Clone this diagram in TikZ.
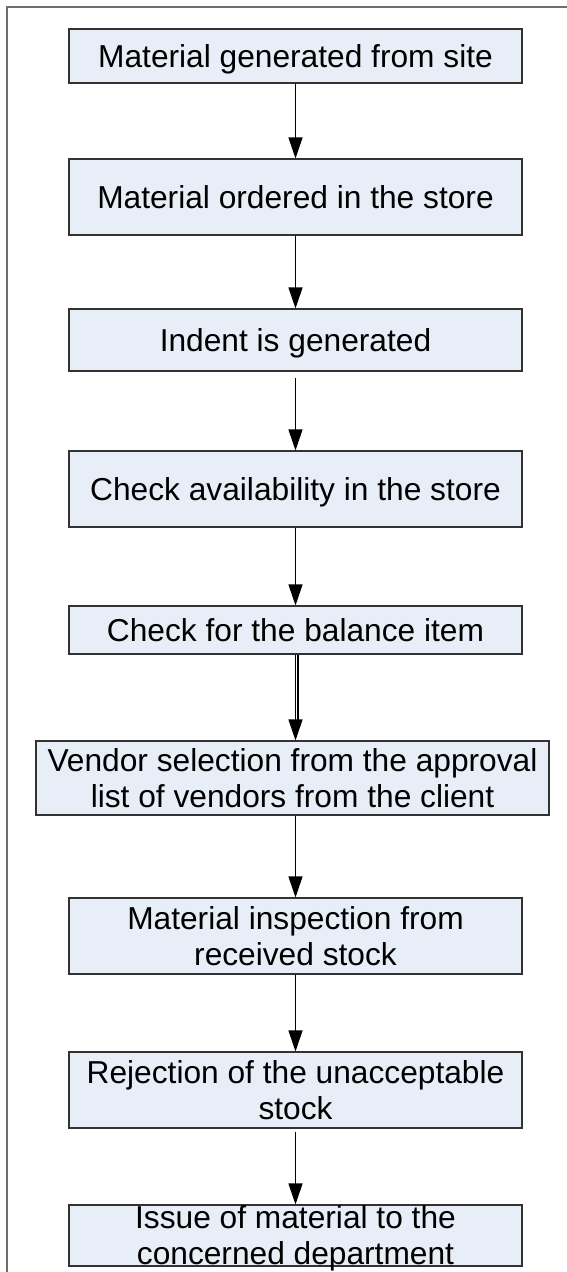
\documentclass[tikz,border=0pt]{standalone}
\usepackage{fontspec}
\setmainfont{Liberation Sans}
\usetikzlibrary{arrows.meta}
\definecolor{boxfill}{RGB}{232,238,248}
\definecolor{boxline}{RGB}{50,50,50}
\definecolor{framecol}{RGB}{110,110,110}
\tikzset{
  stepbox/.style={draw=boxline, line width=1.1pt, fill=boxfill, rectangle,
    minimum width=453pt, inner sep=2pt, align=center,
    font=\fontsize{31.7}{36}\selectfont, text height=22.7pt, text depth=0pt},
  twoline/.style={text height=58.7pt, text depth=0pt},
  arr/.style={draw=black, line width=1.1pt, -{Triangle[length=21pt,width=14pt]}},
  framel/.style={draw=framecol, line width=1.3pt}
}
\begin{document}
\begin{tikzpicture}[x=1pt,y=-1pt]
\useasboundingbox (0,0) rectangle (567,1272);
\draw[framel] (7,1272) -- (7,7) -- (567,7);
\node[stepbox, minimum height=54pt] (b1) at (295.5,56) {Material generated from site};
\node[stepbox, minimum height=76pt] (b2) at (295.5,197) {Material ordered in the store};
\node[stepbox, minimum height=62pt] (b3) at (295.5,340) {Indent is generated};
\node[stepbox, minimum height=76pt] (b4) at (295.5,489) {Check availability in the store};
\node[stepbox, minimum height=48pt] (b5) at (295.5,630) {Check for the balance item};
\node[stepbox, twoline, minimum height=74pt, minimum width=513pt] (b6) at (292.5,778) {Vendor selection from the approval\\list of vendors from the client};
\node[stepbox, twoline, minimum height=76pt] (b7) at (295.5,936) {Material inspection from\\received stock};
\node[stepbox, twoline, minimum height=76pt] (b8) at (295.5,1090) {Rejection of the unacceptable\\stock};
\node[stepbox, minimum height=61pt,
  label={[align=center, font=\fontsize{31.7}{36}\selectfont, text height=58.7pt, text depth=0pt]center:Issue of material to the\\concerned department}] (b9) at (295.5,1235.5) {};
\draw[arr] (b1.south) -- (b2.north);
\draw[arr] (b2.south) -- (b3.north);
\draw[arr, shorten <=6pt] (b3.south) -- (b4.north);
\draw[arr] (b4.south) -- (b5.north);
\draw[arr] (b5.south) -- (b5.south |- b6.north);
\draw[draw=black, line width=1.1pt, shorten >=18pt] ([xshift=2.5pt]b5.south) -- ([xshift=2.5pt]b5.south |- b6.north);
\draw[arr] (b5.south |- b6.south) -- (b5.south |- b7.north);
\draw[arr] (b7.south) -- (b8.north);
\draw[arr, shorten <=3pt] (b8.south) -- (b9.north);
\end{tikzpicture}
\end{document}
